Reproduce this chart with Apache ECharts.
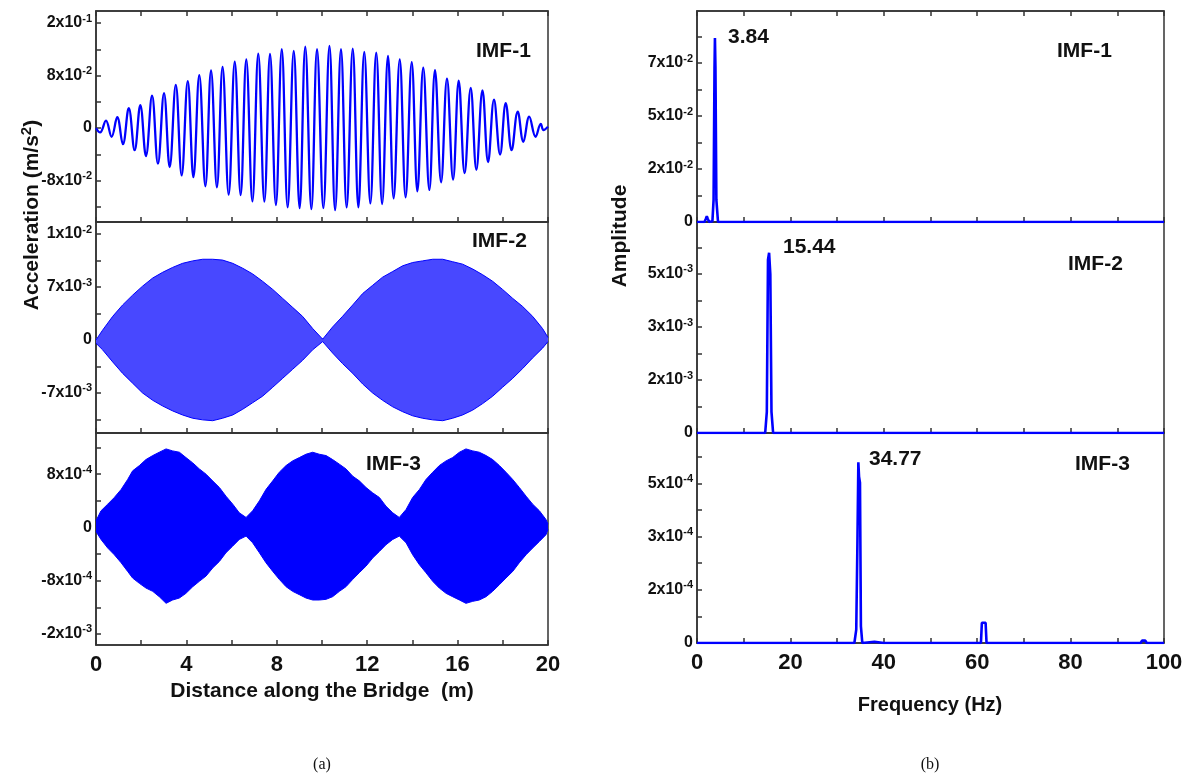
<!DOCTYPE html>
<html>
<head>
<meta charset="utf-8">
<script src="https://cdn.jsdelivr.net/npm/echarts@6.0.0/dist/echarts.min.js"></script>
<style>
  html, body { margin: 0; padding: 0; background: #fff; }
  #chart { width: 1192px; height: 779px; }
</style>
</head>
<body>
<div id="chart"></div>
<script>
// ---- data ----
// (a) IMF-1: peaks and troughs of the oscillation, distance (m) / acceleration (m/s^2)
const imf1X = [0, 0.18, 0.44, 0.69, 0.94, 1.19, 1.45, 1.71, 1.96, 2.21, 2.48, 2.74, 3.01, 3.26, 3.53, 3.79,
  4.06, 4.31, 4.57, 4.84, 5.09, 5.35, 5.60, 5.87, 6.14, 6.40, 6.65, 6.92, 7.18, 7.45, 7.70, 7.96, 8.22, 8.48,
  8.75, 9.01, 9.26, 9.53, 9.78, 10.06, 10.33, 10.58, 10.84, 11.09, 11.36, 11.61, 11.87, 12.14, 12.40, 12.66,
  12.92, 13.17, 13.44, 13.70, 13.97, 14.22, 14.48, 14.75, 15.00, 15.27, 15.53, 15.80, 16.05, 16.31, 16.58,
  16.83, 17.10, 17.35, 17.61, 17.88, 18.13, 18.39, 18.66, 18.91, 19.17, 19.45, 19.68, 19.80, 20.0]
const imf1Y = [0, -0.0067, 0.0113, -0.0133, 0.0164, -0.0246, 0.0303, -0.0338, 0.0349, -0.0426, 0.0492, -0.0544,
  0.0533, -0.0595, 0.0656, -0.0723, 0.0713, -0.0749, 0.0805, -0.0887, 0.0877, -0.0903, 0.0933, -0.1015, 0.1010,
  -0.1021, 0.1046, -0.1118, 0.1133, -0.1123, 0.1128, -0.1174, 0.1200, -0.1210, 0.1174, -0.1221, 0.1241, -0.1236,
  0.1200, -0.1221, 0.1251, -0.1251, 0.1200, -0.1210, 0.1210, -0.1210, 0.1159, -0.1149, 0.1149, -0.1159, 0.1097,
  -0.1072, 0.1046, -0.1056, 0.1005, -0.0964, 0.0918, -0.0944, 0.0882, -0.0826, 0.0754, -0.0785, 0.0723, -0.0687,
  0.0610, -0.0636, 0.0574, -0.0518, 0.0431, -0.0405, 0.0379, -0.0338, 0.0251, -0.0210, 0.0174, -0.0133, 0.0062,
  -0.0031, 0.002]

// (a) IMF-2: dense oscillation, upper / lower envelope
const imf2X = [0, 0.29, 0.74, 1.18, 1.62, 2.06, 2.51, 2.95, 3.39, 3.83, 4.28, 4.72, 5.16, 5.60, 6.05, 6.49, 6.93,
  7.37, 7.82, 8.26, 8.70, 9.14, 9.59, 10.03, 10.47, 10.91, 11.36, 11.80, 12.24, 12.68, 13.13, 13.57, 14.01, 14.45,
  14.90, 15.34, 15.78, 16.22, 16.67, 17.11, 17.55, 17.99, 18.44, 18.88, 19.32, 19.76, 20.0]
const imf2Upper = [0, 0.0012, 0.0029, 0.0043, 0.0055, 0.0066, 0.0076, 0.0083, 0.0089, 0.0094, 0.0097, 0.0099,
  0.0099, 0.0098, 0.0094, 0.0088, 0.0081, 0.0072, 0.0062, 0.0051, 0.0040, 0.0029, 0.0014, 0.0001, 0.0016, 0.0029,
  0.0043, 0.0057, 0.0067, 0.0077, 0.0084, 0.0091, 0.0095, 0.0097, 0.0099, 0.0099, 0.0096, 0.0093, 0.0087, 0.0080,
  0.0072, 0.0062, 0.0051, 0.0041, 0.0029, 0.0014, 0.0003]
const imf2Lower = [-0.0004, -0.0012, -0.0027, -0.0041, -0.0053, -0.0065, -0.0074, -0.0081, -0.0087, -0.0092,
  -0.0096, -0.0098, -0.0099, -0.0096, -0.0092, -0.0085, -0.0077, -0.0069, -0.0058, -0.0047, -0.0036, -0.0025,
  -0.0012, -0.0002, -0.0016, -0.0029, -0.0041, -0.0054, -0.0065, -0.0074, -0.0082, -0.0088, -0.0093, -0.0096,
  -0.0098, -0.0099, -0.0096, -0.0092, -0.0086, -0.0078, -0.0069, -0.0058, -0.0047, -0.0035, -0.0022, -0.0010, -0.0002]

// (a) IMF-3: dense oscillation, upper / lower envelope
const imf3X = [0, 0.22, 0.52, 0.81, 1.11, 1.40, 1.62, 1.92, 2.21, 2.51, 2.80, 3.10, 3.39, 3.69, 3.98, 4.28, 4.57,
  4.87, 5.16, 5.46, 5.75, 6.05, 6.34, 6.64, 6.93, 7.23, 7.52, 7.82, 8.11, 8.41, 8.70, 9.00, 9.29, 9.59, 9.88,
  10.18, 10.47, 10.77, 11.06, 11.36, 11.65, 11.95, 12.24, 12.54, 12.83, 13.13, 13.42, 13.72, 14.01, 14.31, 14.60,
  14.90, 15.19, 15.49, 15.78, 16.08, 16.37, 16.67, 16.96, 17.26, 17.55, 17.85, 18.14, 18.44, 18.73, 19.03, 19.32,
  19.62, 19.91, 20.0]
const imf3Upper = [0.0001, 0.00025, 0.00035, 0.00045, 0.00057, 0.00072, 0.00085, 0.00093, 0.00102, 0.00108,
  0.00113, 0.00118, 0.00115, 0.00113, 0.00105, 0.00097, 0.00088, 0.00080, 0.00070, 0.00060,
  0.00047, 0.00035, 0.00022, 0.00015, 0.00025, 0.00040, 0.00057, 0.00070, 0.00083, 0.00093,
  0.00100, 0.00105, 0.00110, 0.00113, 0.00110, 0.00108, 0.00102, 0.00095, 0.00088, 0.00077,
  0.00070, 0.00060, 0.00052, 0.00045, 0.00032, 0.00022, 0.00015, 0.00027, 0.00045, 0.00057,
  0.00072, 0.00083, 0.00093, 0.00100, 0.00105, 0.00113, 0.00118, 0.00115, 0.00113, 0.00108,
  0.00102, 0.00093, 0.00083, 0.00072, 0.00060, 0.00047, 0.00035, 0.00025, 0.00012, 0.00005]
const imf3Lower = [-0.00006, -0.00018, -0.00031, -0.00041, -0.00053, -0.00066, -0.00076, -0.00084, -0.00091, -0.00096,
  -0.00104, -0.00114, -0.00109, -0.00106, -0.00099, -0.00089, -0.00081, -0.00073, -0.00061, -0.00051,
  -0.00038, -0.00028, -0.00018, -0.00013, -0.00023, -0.00038, -0.00053, -0.00066, -0.00078, -0.00089,
  -0.00096, -0.00101, -0.00106, -0.00109, -0.00109, -0.00108, -0.00104, -0.00096, -0.00089, -0.00078,
  -0.00068, -0.00058, -0.00046, -0.00036, -0.00026, -0.00018, -0.00013, -0.00023, -0.00041, -0.00056,
  -0.00068, -0.00081, -0.00091, -0.00099, -0.00104, -0.00109, -0.00114, -0.00111, -0.00109, -0.00104,
  -0.00096, -0.00086, -0.00076, -0.00066, -0.00053, -0.00041, -0.00031, -0.00021, -0.00011, -0.00003]

// (b) amplitude spectra, frequency (Hz) / amplitude
const spec1F = [0, 1.6, 1.9, 2.1, 2.3, 2.6, 3.3, 3.55, 3.75, 3.84, 3.95, 4.15, 4.5, 7.3, 7.6, 7.9, 100]
const spec1A = [0, 0, 0.0015, 0.0026, 0.0015, 0, 0.0003, 0.01, 0.07, 0.0833, 0.07, 0.01, 0, 0, 0.0005, 0, 0]
const spec2F = [0, 1.8, 2.1, 2.4, 7.2, 7.5, 7.8, 14.6, 14.95, 15.2, 15.44, 15.7, 15.95, 16.3, 100]
const spec2A = [0, 0, 0.00005, 0, 0, 0.00005, 0, 0, 0.0006, 0.0049, 0.0051, 0.0045, 0.0006, 0, 0]
const spec3F = [0, 1.8, 2.1, 2.4, 7.2, 7.5, 7.8, 33.7, 34.1, 34.35, 34.55, 34.7, 34.9, 35.1, 35.4, 38, 40,
  60.8, 61.0, 61.8, 62.0, 95.0, 95.3, 96.0, 96.3, 100]
const spec3A = [0, 0, 0.000006, 0, 0, 0.000006, 0, 0, 0.00004, 0.0003, 0.000543, 0.0005, 0.000482, 0.00005, 0,
  0.000004, 0, 0, 0.000061, 0.000061, 0, 0, 0.000007, 0.000007, 0, 0]

// axis ticks and tick labels
const distTicks = [0, 2, 4, 6, 8, 10, 12, 14, 16, 18, 20]
const distLabels = [0, 4, 8, 12, 16, 20]
const freqTicks = [0, 10, 20, 30, 40, 50, 60, 70, 80, 90, 100]
const freqLabels = [0, 20, 40, 60, 80, 100]

const acc1Ticks = [-0.12, -0.08, -0.04, 0, 0.04, 0.08, 0.12, 0.16]
const acc1Values = [-0.08, 0, 0.08, 0.16]
const acc1Text = ['-8x10^-2', '0', '8x10^-2', '2x10^-1']
const acc2Ticks = [-0.00975, -0.0065, -0.00325, 0, 0.00325, 0.0065, 0.00975, 0.013]
const acc2Values = [-0.0065, 0, 0.0065, 0.013]
const acc2Text = ['-7x10^-3', '0', '7x10^-3', '1x10^-2']
const acc3Ticks = [-0.0016, -0.0012, -0.0008, -0.0004, 0, 0.0004, 0.0008, 0.0012]
const acc3Values = [-0.0016, -0.0008, 0, 0.0008]
const acc3Text = ['-2x10^-3', '-8x10^-4', '0', '8x10^-4']

const amp1Ticks = [0, 0.012, 0.024, 0.036, 0.048, 0.06, 0.072, 0.084]
const amp1Values = [0, 0.024, 0.048, 0.072]
const amp1Text = ['0', '2x10^-2', '5x10^-2', '7x10^-2']
const amp2Ticks = [0, 0.00075, 0.0015, 0.00225, 0.003, 0.00375, 0.0045, 0.00525]
const amp2Values = [0, 0.0015, 0.003, 0.0045]
const amp2Text = ['0', '2x10^-3', '3x10^-3', '5x10^-3']
const amp3Ticks = [0, 0.00008, 0.00016, 0.00024, 0.00032, 0.0004, 0.00048, 0.00056]
const amp3Values = [0, 0.00016, 0.00032, 0.00048]
const amp3Text = ['0', '2x10^-4', '3x10^-4', '5x10^-4']

// ---- chart ----
const blue = '#0000ff'
const ink = '#111'
const frame = '#333'
const font = '"Liberation Sans", sans-serif'

const pairs = (xs, ys) => xs.map((x, i) => [x, ys[i]])

function supText(s) {
  const k = s.indexOf('^')
  if (k < 0) return '{m|' + s + '}'
  return '{m|' + s.slice(0, k) + '}{e|' + s.slice(k + 1) + '}'
}

function tickFormatter(values, texts) {
  return function (v) {
    const span = Math.max.apply(null, values.map(Math.abs)) || 1
    const k = values.findIndex(t => Math.abs(t - v) < span * 1e-6)
    return k < 0 ? '' : supText(texts[k])
  }
}

const supRich = {
  m: { fontSize: 16, fontWeight: 'bold', fontFamily: font, color: ink, lineHeight: 20 },
  e: { fontSize: 11, fontWeight: 'bold', fontFamily: font, color: ink, lineHeight: 11, verticalAlign: 'top' }
}

function yAxis(gridIndex, min, max, ticks, values, texts) {
  return {
    type: 'value', gridIndex, min, max,
    axisLine: { show: true, onZero: false, lineStyle: { color: frame, width: 1.5 } },
    axisTick: { show: true, inside: true, length: 5, customValues: ticks, lineStyle: { color: frame, width: 1.5 } },
    axisLabel: { customValues: values, formatter: tickFormatter(values, texts), margin: 4, rich: supRich },
    splitLine: { show: false }
  }
}

function xAxis(gridIndex, max, ticks, labels, showLabels, position) {
  return {
    type: 'value', gridIndex, min: 0, max, position: position || 'bottom',
    axisLine: { show: true, onZero: false, lineStyle: { color: frame, width: 1.5 } },
    axisTick: { show: true, inside: true, length: 5, customValues: ticks, lineStyle: { color: frame, width: 1.5 } },
    axisLabel: {
      show: showLabels, customValues: labels, margin: 9,
      fontSize: 22, fontWeight: 'bold', fontFamily: font, color: ink
    },
    splitLine: { show: false }
  }
}

const gridBase = { show: true, borderColor: frame, borderWidth: 1.5, containLabel: false }
const grids = [
  { left: 96, top: 11, width: 452, height: 211 },
  { left: 96, top: 222, width: 452, height: 211 },
  { left: 96, top: 433, width: 452, height: 212 },
  { left: 697, top: 11, width: 467, height: 211 },
  { left: 697, top: 222, width: 467, height: 211 },
  { left: 697, top: 433, width: 467, height: 210 }
].map(g => Object.assign({}, gridBase, g))

const xAxes = [
  xAxis(0, 20, distTicks, distLabels, false),
  xAxis(1, 20, distTicks, distLabels, false),
  xAxis(2, 20, distTicks, distLabels, true),
  xAxis(3, 100, freqTicks, freqLabels, false),
  xAxis(4, 100, freqTicks, freqLabels, false),
  xAxis(5, 100, freqTicks, freqLabels, true),
  xAxis(0, 20, distTicks, distLabels, false, 'top'),
  xAxis(3, 100, freqTicks, freqLabels, false, 'top')
]

const yAxes = [
  yAxis(0, -0.1432, 0.1783, acc1Ticks, acc1Values, acc1Text),
  yAxis(1, -0.01141, 0.01447, acc2Ticks, acc2Values, acc2Text),
  yAxis(2, -0.001766, 0.001419, acc3Ticks, acc3Values, acc3Text),
  yAxis(3, 0, 0.09555, amp1Ticks, amp1Values, amp1Text),
  yAxis(4, 0, 0.00597, amp2Ticks, amp2Values, amp2Text),
  yAxis(5, 0, 0.000631, amp3Ticks, amp3Values, amp3Text)
]

// the dense oscillation is drawn as the filled band between its envelopes:
// one area from the upper envelope and one from the lower, overlapping a hair at zero
function envelope(axis, xs, lower, upper, fill, overlap) {
  const common = {
    type: 'line', xAxisIndex: axis, yAxisIndex: axis, showSymbol: false, silent: true,
    lineStyle: { color: blue, width: 1 }
  }
  return [
    Object.assign({}, common, { data: pairs(xs, upper), areaStyle: { color: fill, opacity: 1, origin: -overlap } }),
    Object.assign({}, common, { data: pairs(xs, lower), areaStyle: { color: fill, opacity: 1, origin: overlap } })
  ]
}

function spectrum(axis, fs, as) {
  return {
    type: 'line', xAxisIndex: axis, yAxisIndex: axis, data: pairs(fs, as),
    showSymbol: false, silent: true, lineStyle: { color: blue, width: 2.6 }, z: 3
  }
}

const series = [
  {
    type: 'line', xAxisIndex: 0, yAxisIndex: 0, data: pairs(imf1X, imf1Y), smooth: 0.4,
    showSymbol: false, silent: true, lineStyle: { color: blue, width: 2.3 }
  },
  ...envelope(1, imf2X, imf2Lower, imf2Upper, '#4848ff', 0.0002),
  ...envelope(2, imf3X, imf3Lower, imf3Upper, blue, 0.00002),
  spectrum(3, spec1F, spec1A),
  spectrum(4, spec2F, spec2A),
  spectrum(5, spec3F, spec3A)
]

const txt = (x, y, text, size, extra) => Object.assign({
  type: 'text', x, y, z: 100,
  style: Object.assign({
    text, fill: ink, fontSize: size, fontWeight: 'bold', fontFamily: font,
    align: 'left', verticalAlign: 'middle'
  }, extra || {})
})

const graphic = [
  txt(476, 51, 'IMF-1', 21),
  txt(472, 241, 'IMF-2', 21),
  txt(366, 464, 'IMF-3', 21),
  txt(1057, 51, 'IMF-1', 21),
  txt(1068, 264, 'IMF-2', 21),
  txt(1075, 464, 'IMF-3', 21),
  txt(728, 37, '3.84', 21),
  txt(783, 247, '15.44', 21),
  txt(869, 459, '34.77', 21),
  txt(322, 691, 'Distance along the Bridge  (m)', 21, { align: 'center' }),
  txt(930, 705, 'Frequency (Hz)', 20, { align: 'center' }),
  {
    type: 'text', x: 32, y: 215, rotation: Math.PI / 2, z: 100,
    style: {
      text: '{t|Acceleration (m/s}{s|2}{t|)}', align: 'center', verticalAlign: 'middle',
      rich: {
        t: { fontSize: 21, fontWeight: 'bold', fontFamily: font, fill: ink, lineHeight: 26 },
        s: { fontSize: 15, fontWeight: 'bold', fontFamily: font, fill: ink, lineHeight: 15, verticalAlign: 'top' }
      }
    }
  },
  {
    type: 'text', x: 620, y: 236, rotation: Math.PI / 2, z: 100,
    style: {
      text: 'Amplitude', align: 'center', verticalAlign: 'middle',
      fontSize: 21, fontWeight: 'bold', fontFamily: font, fill: ink
    }
  },
  txt(322, 765, '(a)', 16, { align: 'center', fontWeight: 'normal', fontFamily: '"Liberation Serif", serif' }),
  txt(930, 765, '(b)', 16, { align: 'center', fontWeight: 'normal', fontFamily: '"Liberation Serif", serif' })
]

const myChart = echarts.init(document.getElementById('chart'), null, { renderer: 'canvas' })
myChart.setOption({
  backgroundColor: '#fff',
  animation: false,
  grid: grids,
  xAxis: xAxes,
  yAxis: yAxes,
  series,
  graphic
})
</script>
</body>
</html>
